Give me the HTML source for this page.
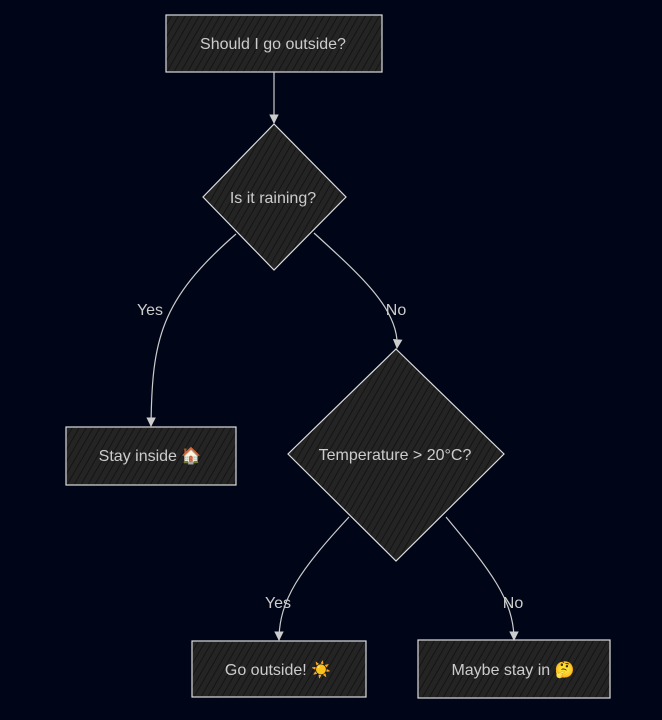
<!DOCTYPE html>
<html><head><meta charset="utf-8"><style>
html,body{margin:0;padding:0;background:#000617;}
svg{display:block}
text{font-family:"Liberation Sans","DejaVu Sans",sans-serif;font-size:16px;fill:#ccc;text-anchor:middle;dominant-baseline:middle}
</style></head><body>
<svg width="662" height="720" viewBox="0 0 662 720" xmlns="http://www.w3.org/2000/svg">
<defs>
<pattern id="h" width="6" height="6" patternUnits="userSpaceOnUse" patternTransform="rotate(30)">
<rect width="6" height="6" fill="#242424"/>
<line x1="0" y1="0" x2="0" y2="6" stroke="#141414" stroke-width="2"/>
</pattern>
<marker id="a" viewBox="0 0 10 10" refX="9" refY="5" markerWidth="8" markerHeight="8" orient="auto-start-reverse">
<path d="M0,0 L10,5 L0,10 z" fill="#ccc"/>
</marker>
</defs>
<g fill="url(#h)" stroke="#ddd" stroke-width="1.2">
<rect x="166" y="15" width="216" height="57"/>
<polygon points="274,124 346,197 274,270 203,197"/>
<rect x="66" y="427" width="170" height="58"/>
<polygon points="396,349 504,454 396,561 288,454"/>
<rect x="192" y="641" width="174" height="56"/>
<rect x="418" y="640" width="192" height="58"/>
</g>
<g fill="none" stroke="#ccc" stroke-width="1.2" marker-end="url(#a)">
<path d="M274,72 L274,123"/>
<path d="M236,234 C160,300 152,340 151,426"/>
<path d="M314,233 C360,275 400,310 397,348"/>
<path d="M349,517 C300,570 279,600 279,640"/>
<path d="M446,517 C490,570 514,600 514,640"/>
</g>
<g transform="translate(-1,2)">
<text x="274" y="43">Should I go outside?</text>
<text x="274" y="197">Is it raining?</text>
<text x="151" y="455">Stay inside 🏠</text>
<text x="396" y="454">Temperature &gt; 20°C?</text>
<text x="279" y="669">Go outside! ☀️</text>
<text x="514" y="669">Maybe stay in 🤔</text>
<text x="151" y="309">Yes</text>
<text x="397" y="309">No</text>
<text x="279" y="602">Yes</text>
<text x="514" y="602">No</text>
</g>
</svg>
</body></html>
